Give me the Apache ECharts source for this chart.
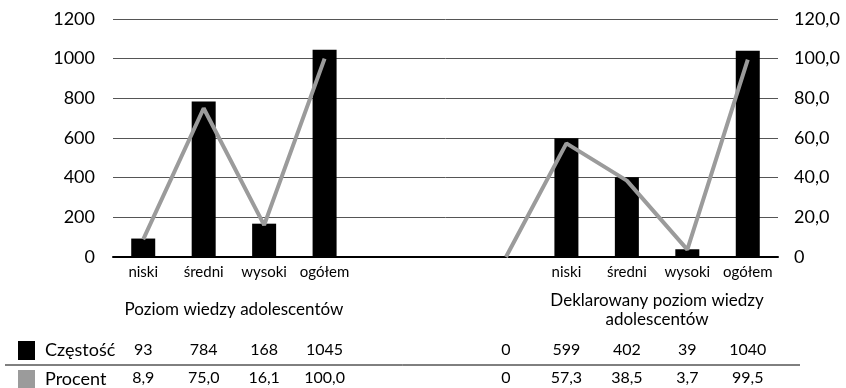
<!DOCTYPE html>
<html>
<head>
<meta charset="utf-8">
<script src="https://cdn.jsdelivr.net/npm/echarts@6/dist/echarts.min.js"></script>
<style>
  html, body { margin: 0; padding: 0; background: #fff; }
  #chart { width: 846px; height: 388px; }
</style>
</head>
<body>
<div id="chart"></div>
<script>
// Categories: two groups of knowledge levels, separated by empty slots
const categories = ['niski', 'średni', 'wysoki', 'ogółem', '', '', '', 'niski', 'średni', 'wysoki', 'ogółem'];
const groupLabels = ['Poziom wiedzy adolescentów', 'Deklarowany poziom wiedzy\nadolescentów'];
const groupCenters = [1.5, 8.5];

// Counts (left axis) and percentages (right axis)
const frequency = [93, 784, 168, 1045, null, null, 0, 599, 402, 39, 1040];
const percent = [8.9, 75.0, 16.1, 100.0, null, null, 0, 57.3, 38.5, 3.7, 99.5];

const leftTicks = { min: 0, max: 1200, interval: 200 };
const rightTicks = { min: 0, max: 120, interval: 20 };

const FONT = 'Lato';
const fmtPct = v => (v === 0 ? '0' : v.toFixed(1).replace('.', ','));
const freqRow = frequency.map(v => (v === null ? '' : String(v)));
const pctRow = percent.map(v => (v === null ? '' : fmtPct(v)));

const chart = echarts.init(document.getElementById('chart'), null, { renderer: 'canvas' });

const baseHidden = {
  axisLine: { show: false },
  axisTick: { show: false },
  splitLine: { show: false }
};

const legendBase = {
  orient: 'vertical',
  left: 18,
  itemWidth: 17,
  itemHeight: 19,
  icon: 'rect',
  padding: 0,
  textStyle: { fontFamily: FONT, fontSize: 18, color: '#000', padding: [0, 0, 0, 5] }
};

chart.setOption({
  animation: false,
  textStyle: { fontFamily: FONT, color: '#000' },
  grid: { left: 113, right: 68, top: 19, bottom: 131, containLabel: false },
  legend: [
    Object.assign({ top: 341, data: ['Częstość'] }, legendBase),
    Object.assign({ top: 370, data: ['Procent'] }, legendBase)
  ],
  xAxis: [
    {
      type: 'category',
      data: categories,
      position: 'bottom',
      axisLine: { show: true, lineStyle: { color: '#000', width: 2 } },
      axisTick: { show: false },
      axisLabel: { show: true, interval: 0, fontSize: 15, color: '#000', margin: 15, verticalAlign: 'middle' }
    },
    Object.assign({
      type: 'value',
      min: -0.5,
      max: 10.5,
      position: 'bottom',
      axisLabel: {
        customValues: groupCenters,
        formatter: v => groupLabels[groupCenters.indexOf(v)] || '',
        fontSize: 17, color: '#000', margin: 53, verticalAlign: 'middle', lineHeight: 19, align: 'center'
      }
    }, baseHidden),
    Object.assign({
      type: 'category',
      data: freqRow,
      position: 'bottom',
      axisLabel: { interval: 0, fontSize: 16, color: '#000', margin: 93, verticalAlign: 'middle' }
    }, baseHidden),
    Object.assign({
      type: 'category',
      data: pctRow,
      position: 'bottom',
      axisLabel: { interval: 0, fontSize: 16, color: '#000', margin: 121, verticalAlign: 'middle' }
    }, baseHidden)
  ],
  yAxis: [
    {
      type: 'value',
      min: leftTicks.min, max: leftTicks.max, interval: leftTicks.interval,
      position: 'left',
      axisLine: { show: false },
      axisTick: { show: false },
      axisLabel: { fontSize: 18, color: '#000', margin: 18, formatter: v => String(v) },
      splitLine: { show: true, lineStyle: { color: '#555', width: 1 } }
    },
    {
      type: 'value',
      min: rightTicks.min, max: rightTicks.max, interval: rightTicks.interval,
      position: 'right',
      axisLine: { show: false },
      axisTick: { show: false },
      axisLabel: { fontSize: 18, color: '#000', margin: 16, formatter: fmtPct },
      splitLine: { show: false }
    }
  ],
  series: [
    {
      name: 'Częstość',
      type: 'bar',
      xAxisIndex: 0,
      yAxisIndex: 0,
      data: frequency,
      barWidth: 24,
      itemStyle: { color: '#000' }
    },
    {
      name: 'Procent',
      type: 'line',
      xAxisIndex: 0,
      yAxisIndex: 1,
      data: percent,
      showSymbol: false,
      symbol: 'none',
      connectNulls: false,
      lineStyle: { color: '#9b9b9b', width: 4 },
      itemStyle: { color: '#9b9b9b' },
      z: 3
    }
  ],
  graphic: [
    {
      type: 'line',
      shape: { x1: 5, y1: 365, x2: 800, y2: 365 },
      style: { stroke: '#000', lineWidth: 1 }
    }
  ]
});
</script>
</body>
</html>
